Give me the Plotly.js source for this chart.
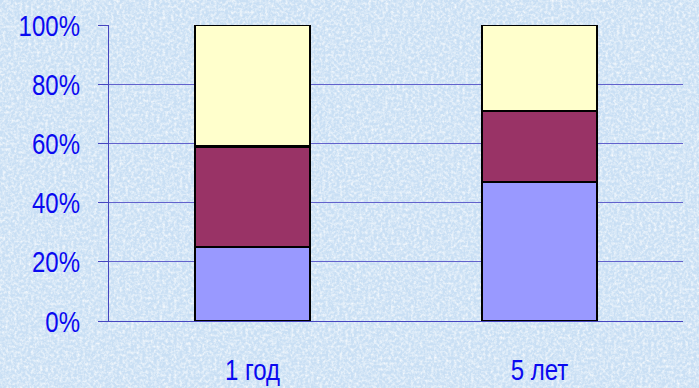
<!DOCTYPE html>
<html>
<head>
<meta charset="utf-8">
<script src="https://cdn.plot.ly/plotly-3.0.1.min.js"></script>
<style>
  html, body { margin: 0; padding: 0; }
  body {
    width: 699px; height: 388px; overflow: hidden;
    background-color: #c9dff4;
    background-image: url("data:image/svg+xml;utf8,<svg xmlns='http://www.w3.org/2000/svg' width='699' height='388'><filter id='n'><feTurbulence type='fractalNoise' baseFrequency='0.35' numOctaves='3' seed='4'/><feColorMatrix values='0 0 0 0 1  0 0 0 0 1  0 0 0 0 1  0 0 0 1.6 -0.6'/></filter><rect width='100%' height='100%' filter='url(%23n)'/></svg>");
  }
  #chart { width: 699px; height: 388px; }
</style>
</head>
<body>
<div id="chart"></div>
<script>
// Periods on the x axis
const categories = ['1 год', '5 лет'];
// Shares of each component, percent (stacked to 100%)
const lowerShare  = [25, 47];
const middleShare = [34, 24];
const upperShare  = [41, 29];
const yTickValues = [0, 20, 40, 60, 80, 100];
const yTickLabels = ['0%', '20%', '40%', '60%', '80%', '100%'];

const barLine = { color: '#000000', width: 2.5 };
const makeBar = (vals, color) => ({
  type: 'bar', x: categories, y: vals,
  marker: { color: color, line: barLine },
  hoverinfo: 'none'
});

const data = [
  makeBar(lowerShare, '#9999ff'),
  makeBar(middleShare, '#993366'),
  makeBar(upperShare, '#ffffcc')
];

const labelFont = { family: '"Liberation Sans", Arial, sans-serif', size: 30, color: '#0a0af0' };

const layout = {
  width: 699, height: 388,
  margin: { l: 109, r: 16, t: 25, b: 67 },
  paper_bgcolor: 'rgba(0,0,0,0)',
  plot_bgcolor: 'rgba(0,0,0,0)',
  barmode: 'stack',
  bargap: 0.6,
  showlegend: false,
  xaxis: {
    type: 'category',
    tickfont: labelFont,
    showline: true, linecolor: '#4646c0', linewidth: 1,
    ticks: '', ticklabelstandoff: 22,
    showgrid: false, zeroline: false, fixedrange: true
  },
  yaxis: {
    range: [0, 100],
    tickvals: yTickValues, ticktext: yTickLabels,
    tickfont: labelFont,
    showline: true, linecolor: '#4646c0', linewidth: 1,
    ticks: 'outside', ticklen: 10, tickcolor: '#4646c0', tickwidth: 1,
    ticklabelstandoff: 12,
    showgrid: true, gridcolor: '#6262cc', gridwidth: 1,
    zeroline: false, fixedrange: true
  }
};

Plotly.newPlot('chart', data, layout, { staticPlot: true, displayModeBar: false }).then(gd => {
  // narrow the axis labels to a condensed width
  gd.querySelectorAll('.xtick text, .ytick text').forEach(t => {
    const w = t.getComputedTextLength();
    t.setAttribute('textLength', (w * 0.8).toFixed(1));
    t.setAttribute('lengthAdjust', 'spacingAndGlyphs');
  });
});
</script>
</body>
</html>
